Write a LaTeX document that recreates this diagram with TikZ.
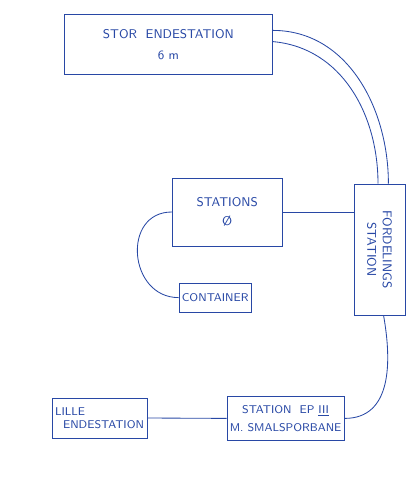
\documentclass[tikz,border=0pt]{standalone}
\usepackage{tikz}
\definecolor{ink}{RGB}{40,72,165}

\begin{document}
\begin{tikzpicture}[
  box/.style={draw=ink,line width=0.6pt,rectangle,inner sep=2pt,text=ink,
    font=\sffamily\small,align=center},
  track/.style={draw=ink,line width=0.6pt}]
\useasboundingbox (0,0) rectangle (10.5,-12);
\node[box,minimum width=5.2cm,minimum height=1.5cm] (stor) at (4.21,-1.12)
  {STOR\ \ ENDESTATION\\[4pt]6 m};
\node[box,minimum width=1.28cm,minimum height=3.28cm] (ford) at (9.49,-6.24) {};
\node[text=ink,font=\sffamily\small,align=center,rotate=-90] (fordtxt) at (ford.center)
  {FORDELINGS\\STATION};
\node[box,minimum width=2.75cm,minimum height=1.7cm] (stations) at (5.68,-5.3)
  {STATIONS\\[2pt]\O};
\node[box,font=\sffamily\footnotesize,minimum width=1.7cm,minimum height=0.72cm]
  (container) at (5.38,-7.44) {CONTAINER};
\node[box,font=\sffamily\footnotesize,align=left,minimum width=2.38cm,
  minimum height=1.0cm] (lille) at (2.49,-10.45) {LILLE\\ \ \ ENDESTATION};
\node[box,font=\sffamily\footnotesize,minimum width=2.53cm,minimum height=1.08cm]
  (ep) at (7.14,-10.46) {STATION\ \ EP \underline{III}\\[3pt]M.\ SMALSPORBANE};
% forbindelser
\draw[track] ([yshift=3.6mm]stor.east) to[out=0,in=90] ([xshift=2.2mm]ford.north);
\draw[track] ([yshift=0.8mm]stor.east) to[out=-5,in=90] ([xshift=-0.4mm]ford.north);
\draw[track] (stations.east) -- (stations.east -| ford.west);
\draw[track] (stations.west) to[out=180,in=180,looseness=1.5] (container.west);
\draw[track] ([xshift=1mm]ford.south) to[out=-80,in=0,looseness=1.1] (ep.east);
\draw[track] (lille.east) -- (ep.west);
\end{tikzpicture}
\end{document}
